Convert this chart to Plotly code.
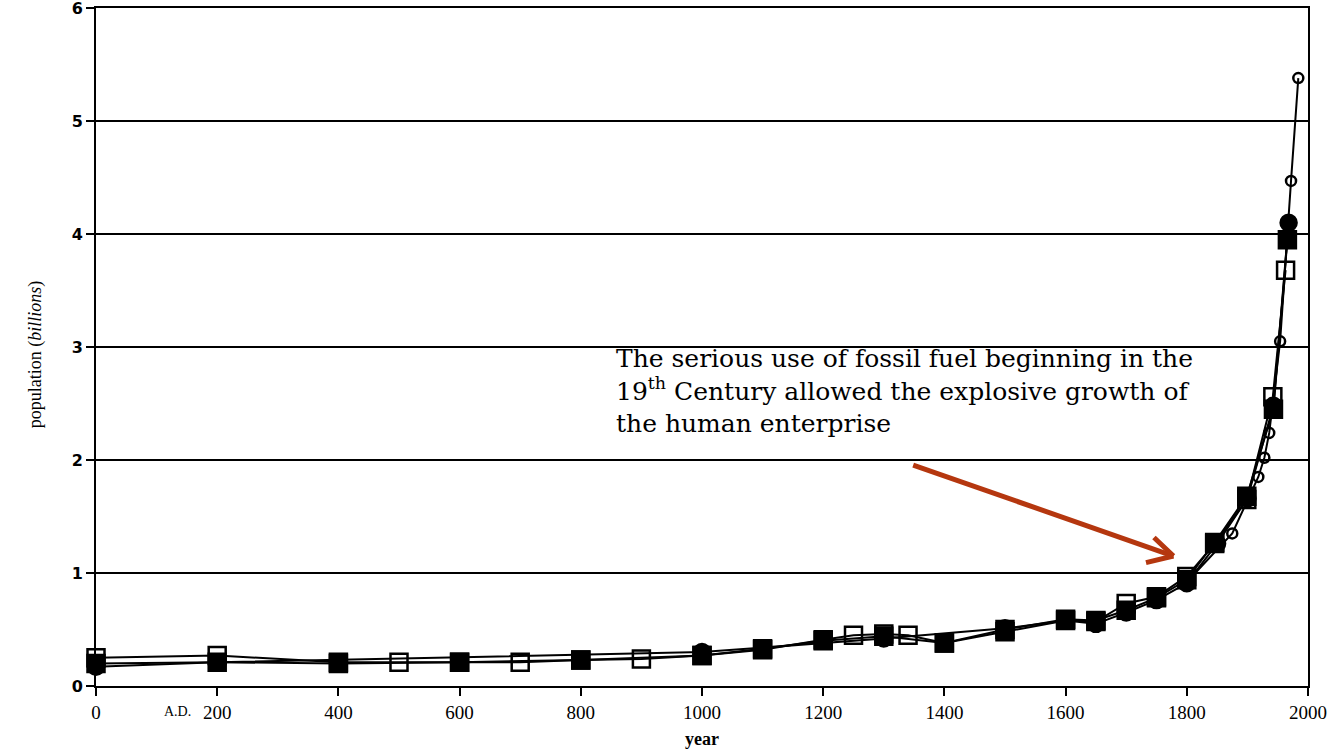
import plotly.graph_objects as go

# Series A: open squares
a_years = [0, 200, 400, 500, 600, 700, 800, 900, 1000, 1100, 1200, 1250, 1300, 1340, 1400, 1500, 1600, 1650, 1700, 1750, 1800, 1846, 1899, 1942, 1963]
a_pop = [0.25, 0.27, 0.21, 0.21, 0.21, 0.21, 0.23, 0.24, 0.27, 0.32, 0.41, 0.45, 0.46, 0.45, 0.38, 0.48, 0.58, 0.57, 0.73, 0.79, 0.97, 1.26, 1.65, 2.56, 3.68]

# Series B: filled squares
b_years = [0, 200, 400, 600, 800, 1000, 1100, 1200, 1300, 1400, 1500, 1600, 1650, 1700, 1750, 1800, 1846, 1899, 1943, 1966]
b_pop = [0.20, 0.21, 0.20, 0.21, 0.23, 0.27, 0.33, 0.40, 0.44, 0.38, 0.50, 0.59, 0.58, 0.67, 0.78, 0.94, 1.27, 1.68, 2.45, 3.95]

# Series C: filled circles
c_years = [0, 200, 1000, 1300, 1500, 1600, 1650, 1700, 1750, 1800, 1850, 1900, 1943, 1968]
c_pop = [0.17, 0.21, 0.30, 0.42, 0.51, 0.58, 0.55, 0.65, 0.76, 0.91, 1.26, 1.66, 2.48, 4.10]

# Series D: open circles
d_years = [1800, 1875, 1918, 1928, 1936, 1954, 1972, 1984]
d_pop = [0.92, 1.35, 1.85, 2.02, 2.24, 3.05, 4.47, 5.38]

x_ticks = [0, 200, 400, 600, 800, 1000, 1200, 1400, 1600, 1800, 2000]
y_ticks = [0, 1, 2, 3, 4, 5, 6]

note_lines = ["The serious use of fossil fuel beginning in the",
              "19<sup>th</sup> Century allowed the explosive growth of",
              "the human enterprise"]

arrow_start = (1346, 1.96)
arrow_end = (1778, 1.15)

RED = "#b5370f"

fig = go.Figure()

def add_series(xs, ys, symbol, size):
    fig.add_trace(go.Scatter(
        x=xs, y=ys, mode="lines+markers",
        line=dict(color="black", width=2),
        marker=dict(symbol=symbol, size=size, color="black",
                    line=dict(color="black", width=2.5)),
        cliponaxis=False, showlegend=False, hoverinfo="x+y"))

add_series(c_years, c_pop, "circle", 16)
add_series(b_years, b_pop, "square", 17)
add_series(a_years, a_pop, "square-open", 17)
add_series(d_years, d_pop, "circle-open", 10)

# arrow shaft
fig.add_annotation(x=arrow_end[0], y=arrow_end[1], ax=arrow_start[0], ay=arrow_start[1],
                   xref="x", yref="y", axref="x", ayref="y", text="",
                   showarrow=True, arrowhead=0, arrowwidth=5, arrowcolor=RED)
# arrow head arms (pixel offsets from tip)
for dx, dy in [(-21, -20), (-29, 7)]:
    fig.add_annotation(x=arrow_end[0], y=arrow_end[1], ax=dx, ay=dy,
                       xref="x", yref="y", text="", showarrow=True,
                       arrowhead=0, arrowwidth=5, arrowcolor=RED)

fig.add_annotation(x=0.427, y=3.04, xref="paper", yref="y", xanchor="left", yanchor="top",
                   text="<br>".join(note_lines), showarrow=False, align="left",
                   font=dict(family="DejaVu Serif", size=25, color="black"))

fig.add_annotation(x=0.067, y=-0.037, xref="paper", yref="paper", text="A.D.",
                   showarrow=False, xanchor="center", yanchor="middle",
                   font=dict(family="Liberation Serif", size=14, color="black"))

fig.add_annotation(x=0.5, y=-0.078, xref="paper", yref="paper", text="<b>year</b>",
                   showarrow=False, xanchor="center", yanchor="middle",
                   font=dict(family="Liberation Serif", size=18, color="black"))

fig.add_annotation(x=-0.05, y=0.49, xref="paper", yref="paper",
                   text="population (<i>billions</i>)", textangle=-90,
                   showarrow=False, xanchor="center", yanchor="middle",
                   font=dict(family="Liberation Serif", size=18, color="black"))

fig.update_layout(
    width=1330, height=750,
    margin=dict(l=96, r=22, t=8, b=64),
    plot_bgcolor="white", paper_bgcolor="white",
    font=dict(family="Liberation Serif", color="black"),
)
fig.update_xaxes(range=[0, 2000], tickvals=x_ticks, ticktext=[str(v) for v in x_ticks],
                 automargin=False, ticklabeloverflow="allow",
                 showline=True, linecolor="black", linewidth=2, mirror=True,
                 ticks="outside", ticklen=8, tickcolor="black", tickwidth=2,
                 showgrid=False, zeroline=False,
                 tickfont=dict(family="Liberation Serif", size=19))
fig.update_yaxes(range=[0, 6], tickvals=y_ticks, ticktext=["<b>%d</b>" % v for v in y_ticks],
                 automargin=False, ticklabeloverflow="allow",
                 showline=True, linecolor="black", linewidth=2, mirror=True,
                 ticks="outside", ticklen=8, tickcolor="black", tickwidth=2,
                 showgrid=True, gridcolor="black", gridwidth=1.5, zeroline=False,
                 tickfont=dict(family="DejaVu Sans", size=16))

fig.write_html("out.html", config={"displayModeBar": False},
               post_script="document.body.style.margin='0';")
